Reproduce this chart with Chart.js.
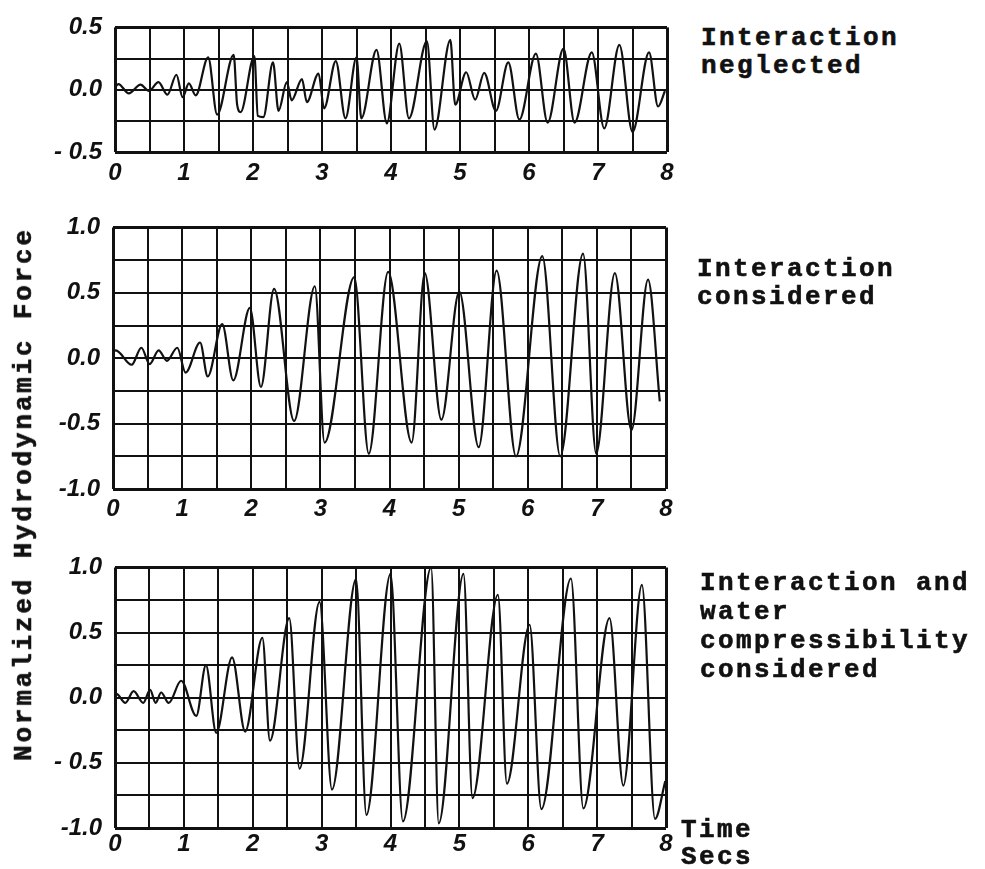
<!DOCTYPE html>
<html>
<head>
<meta charset="utf-8">
<script src="https://cdn.jsdelivr.net/npm/chart.js@4.4.1/dist/chart.umd.min.js"></script>
<style>
  html, body { margin: 0; background: #fff; }
  #page { position: relative; width: 985px; height: 869px; overflow: hidden; background: #fff; }
  canvas { position: absolute; left: 0; }
  .note {
    position: absolute; color: #111; white-space: pre;
    font-family: "Liberation Mono", "DejaVu Sans Mono", monospace; font-weight: bold;
    font-size: 26px; letter-spacing: 2.4px; line-height: 28px;
    -webkit-text-stroke: 0.6px #111;
  }
  #ytitle {
    position: absolute; left: 24px; top: 494px; color: #111; white-space: nowrap;
    font-family: "Liberation Mono", "DejaVu Sans Mono", monospace; font-weight: bold;
    font-size: 26px; letter-spacing: 2.8px; line-height: 26px;
    -webkit-text-stroke: 0.6px #111;
    transform: translate(-50%, -50%) rotate(-90deg);
  }
</style>
</head>
<body>
<div id="page">
  <canvas id="p1" width="700" height="195" style="top:0"></canvas>
  <canvas id="p2" width="700" height="325" style="top:200px"></canvas>
  <canvas id="p3" width="700" height="329" style="top:540px"></canvas>

  <div class="note" style="left:701px;top:24px">Interaction
neglected</div>
  <div class="note" style="left:697px;top:255px">Interaction
considered</div>
  <div class="note" style="left:700px;top:569px;line-height:29px">Interaction and
water
compressibility
considered</div>
  <div class="note" style="left:681px;top:817px;line-height:27px">Time
Secs</div>
  <div id="ytitle">Normalized Hydrodynamic Force</div>
</div>

<script>
/* ---------- data ---------- */
// time axis: grid every 0.5 s, labels every second
const X_GRID = [0, 0.5, 1, 1.5, 2, 2.5, 3, 3.5, 4, 4.5, 5, 5.5, 6, 6.5, 7, 7.5, 8];
const X_TICKS = [0, 1, 2, 3, 4, 5, 6, 7, 8];
const X_LABELS = ["0", "1", "2", "3", "4", "5", "6", "7", "8"];

// top: interaction neglected
const T1 = [0, 0.05, 0.2, 0.37, 0.49, 0.63, 0.76, 0.89, 0.98, 1.07, 1.17, 1.35, 1.48, 1.72, 1.77, 1.82,
  2.02, 2.07, 2.15, 2.29, 2.37, 2.49, 2.56, 2.71, 2.78, 2.95, 3.03, 3.2, 3.34, 3.5, 3.57, 3.79, 3.94,
  4.12, 4.26, 4.52, 4.63, 4.86, 4.93, 5.09, 5.22, 5.35, 5.52, 5.7, 5.86, 6.1, 6.27, 6.5, 6.66, 6.91,
  7.09, 7.31, 7.5, 7.74, 7.87, 7.97];
const V1 = [0.02, 0.045, -0.03, 0.04, -0.01, 0.06, -0.04, 0.12, -0.06, 0.05, -0.045, 0.26, -0.2, 0.28, -0.12, -0.18,
  0.27, -0.21, -0.22, 0.22, -0.17, 0.06, -0.085, 0.085, -0.1, 0.13, -0.15, 0.23, -0.23, 0.26, -0.23, 0.32, -0.27,
  0.37, -0.23, 0.39, -0.32, 0.4, -0.12, 0.14, -0.08, 0.135, -0.17, 0.22, -0.24, 0.29, -0.265, 0.33, -0.265, 0.3,
  -0.31, 0.36, -0.34, 0.3, -0.135, -0.01];
const Y1_GRID = [-0.5, -0.25, 0, 0.25, 0.5];
const Y1_TICKS = [-0.5, 0, 0.5];
const Y1_LABELS = ["- 0.5", "0.0", "0.5"];

// middle: interaction considered
const T2 = [0, 0.04, 0.27, 0.41, 0.53, 0.66, 0.78, 0.93, 1.05, 1.26, 1.37, 1.58, 1.74, 1.98, 2.14, 2.33,
  2.62, 2.92, 3.06, 3.49, 3.7, 3.98, 4.32, 4.51, 4.75, 5.01, 5.29, 5.55, 5.83, 6.21, 6.47, 6.8, 6.99,
  7.26, 7.5, 7.74, 7.91];
const V2 = [0.05, 0.06, -0.05, 0.08, -0.045, 0.06, -0.02, 0.08, -0.11, 0.12, -0.14, 0.26, -0.17, 0.385, -0.22, 0.53,
  -0.48, 0.55, -0.645, 0.62, -0.73, 0.66, -0.645, 0.65, -0.47, 0.51, -0.68, 0.67, -0.75, 0.78, -0.75, 0.8, -0.73,
  0.65, -0.55, 0.6, -0.33];
const Y23_GRID = [-1, -0.75, -0.5, -0.25, 0, 0.25, 0.5, 0.75, 1];
const Y23_TICKS = [-1, -0.5, 0, 0.5, 1];
const Y2_LABELS = ["-1.0", "-0.5", "0.0", "0.5", "1.0"];

// bottom: interaction and water compressibility considered
const T3 = [0, 0.02, 0.15, 0.27, 0.41, 0.51, 0.59, 0.67, 0.78, 0.96, 1.18, 1.32, 1.47, 1.7, 1.89, 2.14,
  2.25, 2.53, 2.68, 2.97, 3.15, 3.5, 3.65, 4.0, 4.18, 4.59, 4.7, 5.06, 5.19, 5.56, 5.69, 6.02, 6.19,
  6.62, 6.8, 7.18, 7.38, 7.65, 7.84, 7.99];
const V3 = [0.02, 0.03, -0.04, 0.05, -0.04, 0.06, -0.04, 0.04, -0.04, 0.13, -0.14, 0.25, -0.27, 0.31, -0.26, 0.46,
  -0.33, 0.61, -0.545, 0.735, -0.705, 0.91, -0.9, 0.95, -0.95, 1.0, -0.965, 0.95, -0.77, 0.79, -0.66, 0.56, -0.855,
  0.915, -0.85, 0.61, -0.675, 0.866, -0.93, -0.64];
const Y3_LABELS = ["-1.0", "- 0.5", "0.0", "0.5", "1.0"];

/* ---------- charts ---------- */
const INK = "#111";
const tickFont = { family: "'Liberation Sans', Arial, sans-serif", size: 24, style: "italic", weight: "bold" };

function labelFor(ticks, labels) {
  return (v) => { const i = ticks.indexOf(v); return i < 0 ? "" : labels[i]; };
}

function makePanel(id, times, values, yGrid, yTicks, yLabels, o) {
  const yMin = yGrid[0], yMax = yGrid[yGrid.length - 1];
  return new Chart(document.getElementById(id), {
    type: "line",
    data: {
      datasets: [{
        data: times.map((t, i) => ({ x: t, y: values[i] })),
        borderColor: INK, borderWidth: 2.2, pointRadius: 0,
        cubicInterpolationMode: "monotone", fill: false,
      }],
    },
    options: {
      responsive: false, animation: false, devicePixelRatio: 1,
      layout: { autoPadding: false, padding: { left: 0, right: o.right, top: o.top, bottom: 0 } },
      plugins: { legend: { display: false }, tooltip: { enabled: false } },
      scales: {
        x: {
          type: "linear", min: 0, max: 8,
          afterBuildTicks: (s) => { s.ticks = X_GRID.map((v) => ({ value: v })); },
          afterFit: (s) => { s.height = o.xh; },
          ticks: { autoSkip: false, maxRotation: 0, padding: o.xpad, color: INK, font: tickFont,
                   callback: labelFor(X_TICKS, X_LABELS) },
          grid: { color: INK, drawTicks: false,
                  lineWidth: (c) => (c.tick && (c.tick.value === 0 || c.tick.value === 8)) ? 3 : 2 },
          border: { display: false },
        },
        y: {
          type: "linear", min: yMin, max: yMax,
          afterBuildTicks: (s) => { s.ticks = yGrid.map((v) => ({ value: v })); },
          afterFit: (s) => { s.width = o.left; },
          ticks: { autoSkip: false, padding: 13, color: INK, font: tickFont,
                   callback: labelFor(yTicks, yLabels) },
          grid: { color: INK, drawTicks: false,
                  lineWidth: (c) => (c.tick && (c.tick.value === yMin || c.tick.value === yMax)) ? 3 : 2 },
          border: { display: false },
        },
      },
    },
  });
}

makePanel("p1", T1, V1, Y1_GRID, Y1_TICKS, Y1_LABELS, { left: 115, right: 33, top: 16, xh: 43, xpad: 7 });
makePanel("p2", T2, V2, Y23_GRID, Y23_TICKS, Y2_LABELS, { left: 113, right: 34, top: 18, xh: 36, xpad: 6 });
makePanel("p3", T3, V3, Y23_GRID, Y23_TICKS, Y3_LABELS, { left: 115, right: 34, top: 18, xh: 41, xpad: 2 });
</script>
</body>
</html>
